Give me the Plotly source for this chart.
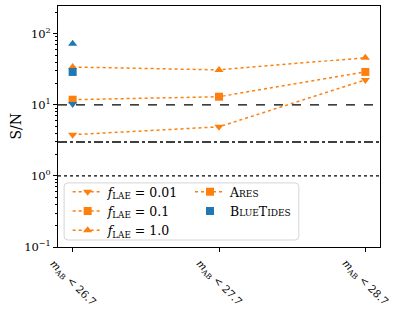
import plotly.graph_objects as go

categories = ["<i>m</i><sub>AB</sub> < 26.7", "<i>m</i><sub>AB</sub> < 27.7", "<i>m</i><sub>AB</sub> < 28.7"]
x_idx = [0, 1, 2]
sn_f001 = [3.8, 4.9, 22.4]
sn_f01 = [11.8, 13.0, 29.0]
sn_f1 = [34.0, 31.0, 46.0]
bluetides_x = [0, 0, 0]
bluetides_sn = [10.3, 29.0, 72.0]
bluetides_symbols = ["triangle-down", "square", "triangle-up"]
ref_levels = [10, 3, 1]
ref_dashes = ["dash", "dashdot", "dot"]
ytick_vals = [0.1, 1, 10, 100]
ytick_text = ["10<sup>−1</sup>", "10<sup>0</sup>", "10<sup>1</sup>", "10<sup>2</sup>"]
ytick_minor = [m * d for d in (0.1, 1, 10, 100) for m in (2, 3, 4, 5, 6, 7, 8, 9)]

ORANGE = "#ff7f0e"
BLUE = "#1f77b4"
FONT = "DejaVu Serif"

fig = go.Figure()

for vals, sym, name in [(sn_f001, "triangle-down", "<i>f</i><sub>LAE</sub> = 0.01"),
                        (sn_f01, "square", "<i>f</i><sub>LAE</sub> = 0.1"),
                        (sn_f1, "triangle-up", "<i>f</i><sub>LAE</sub> = 1.0")]:
    fig.add_trace(go.Scatter(x=x_idx, y=vals, mode="lines+markers", name=name,
                             line=dict(color=ORANGE, dash="dot", width=1.5),
                             marker=dict(symbol=sym, size=8, color=ORANGE),
                             legend="legend"))

fig.add_trace(go.Scatter(x=bluetides_x, y=bluetides_sn, mode="markers", showlegend=False,
                         marker=dict(symbol=bluetides_symbols, size=8, color=BLUE)))

# legend-only entries
fig.add_trace(go.Scatter(x=[None], y=[None], mode="lines+markers",
                         name="A<span style='font-size:9px'>RES</span>",
                         line=dict(color=ORANGE, dash="dot", width=1.5),
                         marker=dict(symbol="square", size=8, color=ORANGE),
                         legend="legend2"))
fig.add_trace(go.Scatter(x=[None], y=[None], mode="markers",
                         name="B<span style='font-size:9px'>LUE</span>T<span style='font-size:9px'>IDES</span>",
                         marker=dict(symbol="square", size=8, color=BLUE),
                         legend="legend2"))

for lvl, dsh in zip(ref_levels, ref_dashes):
    fig.add_shape(type="line", xref="paper", x0=0, x1=1, yref="y", y0=lvl, y1=lvl,
                  line=dict(color="black", width=1.3, dash=dsh), layer="below")

# legend frame (rounded)
x0, x1, y0, y1, r = 0.019, 0.748, 0.029, 0.266, 0.012
ry = r * 322 / 241
path = (f"M {x0+r},{y0} L {x1-r},{y0} Q {x1},{y0} {x1},{y0+ry} L {x1},{y1-ry} "
        f"Q {x1},{y1} {x1-r},{y1} L {x0+r},{y1} Q {x0},{y1} {x0},{y1-ry} "
        f"L {x0},{y0+ry} Q {x0},{y0} {x0+r},{y0} Z")
fig.add_shape(type="path", xref="paper", yref="paper", path=path,
              line=dict(color="#d5d5d5", width=1), fillcolor="rgba(255,255,255,0.8)", layer="above")

for xi, lab in zip(x_idx, categories):
    fig.add_annotation(x=xi, xref="x", y=0, yref="paper", text=lab, showarrow=False,
                       textangle=45, xanchor="center", yanchor="top", yshift=-7,
                       font=dict(family=FONT, size=10.5, color="black"))

fig.add_annotation(x=0, xref="paper", xshift=-43, y=0.5, yref="paper", text="S/N",
                   showarrow=False, textangle=-90, xanchor="center", yanchor="middle",
                   font=dict(family=FONT, size=14, color="black"))

fig.update_layout(
    width=398, height=312,
    margin=dict(l=58, r=18, t=6, b=65, autoexpand=False),
    plot_bgcolor="white", paper_bgcolor="white",
    font=dict(family=FONT, size=11, color="black"),
    legend=dict(x=0.03, y=0.29, xanchor="left", yanchor="top", bgcolor="rgba(0,0,0,0)",
                font=dict(size=12.5), tracegroupgap=0, itemwidth=30),
    legend2=dict(x=0.41, y=0.29, xanchor="left", yanchor="top", bgcolor="rgba(0,0,0,0)",
                 font=dict(size=12.5), itemwidth=30),
    xaxis=dict(range=[-0.1, 2.1], tickvals=x_idx, showticklabels=False, ticks="outside",
               ticklen=4, tickcolor="black", showline=True, linecolor="black", mirror=True,
               showgrid=False, zeroline=False, automargin=False),
    yaxis=dict(type="log", range=[-1, 2.39], tickvals=ytick_vals, ticktext=ytick_text,
               ticks="outside", ticklen=4, tickcolor="black", showline=True, linecolor="black",
               mirror=True, showgrid=False, zeroline=False, automargin=False,
               minor=dict(tickmode="array", tickvals=ytick_minor, ticks="outside", ticklen=2,
                          tickcolor="black", showgrid=False),
               tickfont=dict(size=11.5)),
)

fig.write_html("out.html", config={"displayModeBar": False},
               post_script="document.body.style.margin='0';document.body.style.overflow='hidden';")
